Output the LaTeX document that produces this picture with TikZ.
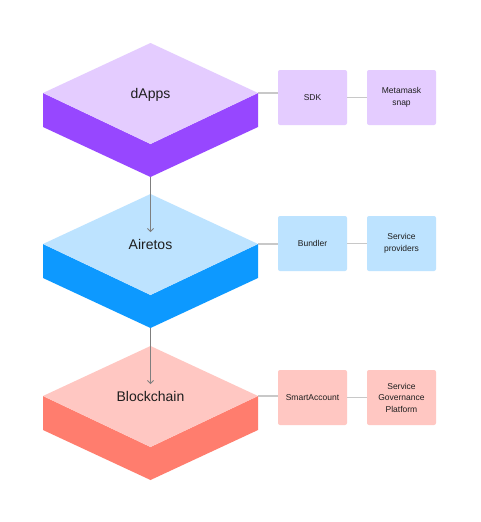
\documentclass[tikz,border=0pt]{standalone}
\usepackage{fontspec}
\setmainfont{Liberation Sans}
\usetikzlibrary{arrows.meta}
\definecolor{pl}{HTML}{E4CCFF}
\definecolor{pd}{HTML}{9747FF}
\definecolor{bl}{HTML}{BDE3FF}
\definecolor{bd}{HTML}{0D99FF}
\definecolor{rl}{HTML}{FFC7C2}
\definecolor{rd}{HTML}{FF7D6E}
\definecolor{txt}{HTML}{1E1E1E}
\definecolor{link}{HTML}{C8C8C8}
\definecolor{arr}{HTML}{7F7F7F}
\newcommand\drawlayer[5]{%
  % #1 name, #2 center y, #3 light, #4 dark, #5 label
  \fill[#4] (43,#2) -- (150.5,#2+51) -- (258,#2) -- (258,#2+34) -- (150.5,#2+84) -- (43,#2+34) -- cycle;
  \fill[#3] (150.5,#2-50) -- (258,#2) -- (150.5,#2+51) -- (43,#2) -- cycle;
  \coordinate (#1r) at (258,#2);
  \coordinate (#1bot) at (150.5,#2+84);
  \node[layertext] (#1) at (150.5,#2+5) {#5};
}
\begin{document}
\begin{tikzpicture}[x=1pt,y=-1pt,
  layertext/.style={text=txt,font=\fontsize{14}{16}\selectfont,inner sep=0pt,anchor=base},
  sidebox/.style={minimum width=69pt,minimum height=55pt,rounded corners=2pt,inner sep=1pt,
    text=txt,font=\fontsize{8.5}{11.5}\selectfont,align=center},
  conn/.style={draw=link,line width=1.3pt},
  flow/.style={draw=arr,line width=0.8pt,-{Straight Barb[length=3pt,width=6pt]}}]
\useasboundingbox (0,0) rectangle (480,522);
\fill[white] (0,0) rectangle (480,522);

\drawlayer{dapps}{93}{pl}{pd}{dApps}
\drawlayer{airetos}{244}{bl}{bd}{Airetos}
\drawlayer{chain}{396}{rl}{rd}{Blockchain}

\coordinate (a1end) at (150.5,232);
\coordinate (a2end) at (150.5,384);
\draw[flow] (dappsbot) -- (a1end);
\draw[flow] (airetosbot) -- (a2end);

\node[sidebox,fill=pl] (sdk) at (312.5,97.5) {SDK};
\node[sidebox,fill=pl] (meta) at (401.5,97.5) {Metamask\\snap};
\node[sidebox,fill=bl] (bundler) at (312.5,243.5) {Bundler};
\node[sidebox,fill=bl] (sp) at (401.5,243.5) {Service\\providers};
\node[sidebox,fill=rl] (sa) at (312.5,397.5) {SmartAccount};
\node[sidebox,fill=rl] (sgp) at (401.5,397.5) {Service\\Governance\\Platform};

\draw[conn] (dappsr) -- (dappsr -| sdk.west);
\draw[conn] (sdk.east) -- (meta.west);
\draw[conn] (airetosr) -- (airetosr -| bundler.west);
\draw[conn] (bundler.east) -- (sp.west);
\draw[conn] (chainr) -- (chainr -| sa.west);
\draw[conn] (sa.east) -- (sgp.west);
\end{tikzpicture}
\end{document}
